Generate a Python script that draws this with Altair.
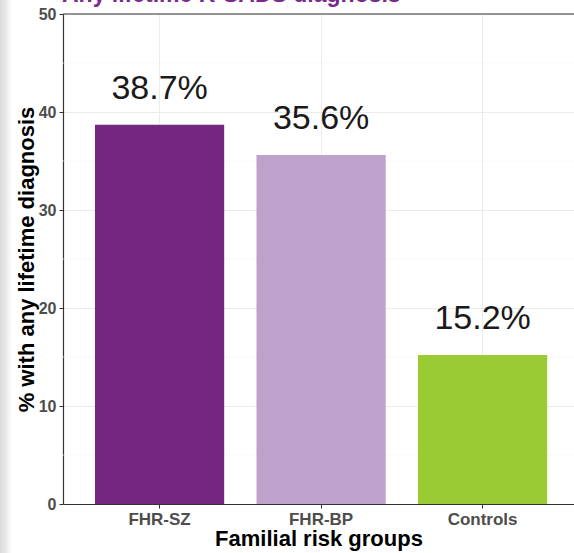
import altair as alt
import pandas as pd

# Share of each familial risk group with any lifetime diagnosis
groups = ["FHR-SZ", "FHR-BP", "Controls"]
pct = [38.7, 35.6, 15.2]
bar_colors = ["#732781", "#BFA2CC", "#9ACB34"]
major_breaks = [0, 10, 20, 30, 40, 50]
minor_breaks = [5, 15, 25, 35, 45]

title_text = "Any lifetime K-SADS diagnosis"
x_title = "Familial risk groups"
y_title = "% with any lifetime diagnosis"

FONT = "Liberation Sans"
W, H = 511, 490

df = pd.DataFrame({"group": groups, "pct": pct})
df["label"] = [f"{v:.1f}%" for v in pct]

x_enc = alt.X(
    "group:N",
    sort=groups,
    title=x_title,
    scale=alt.Scale(paddingInner=0.2, paddingOuter=0.182, align=0.544),
    axis=alt.Axis(
        labelAngle=0,
        grid=True,
        gridColor="#ebebeb",
        gridWidth=1,
        labelFontSize=17,
        labelPadding=3,
        titleFontSize=22,
        titlePadding=1,
    ),
)
y_scale = alt.Scale(domain=[0, 50], nice=False, zero=True)
y_axis = alt.Axis(
    values=major_breaks,
    grid=True,
    gridColor="#ebebeb",
    gridWidth=1,
    labelFontSize=16,
    labelPadding=3,
    titleFontSize=22,
    titlePadding=0,
)
y_enc = alt.Y("pct:Q", title=y_title, scale=y_scale, axis=y_axis)

# thin minor grid lines between the labelled breaks
minor = alt.Chart(pd.DataFrame({"v": minor_breaks})).mark_rule(
    color="#f3f3f3", strokeWidth=0.7
).encode(y=alt.Y("v:Q", scale=y_scale, axis=y_axis, title=y_title))

base = alt.Chart(df)

bars = base.mark_bar().encode(
    x=x_enc,
    y=y_enc,
    color=alt.Color("group:N", sort=groups,
                    scale=alt.Scale(domain=groups, range=bar_colors), legend=None),
)

labels = base.mark_text(
    baseline="alphabetic", dy=-26, fontSize=34, font=FONT, color="#1a1a1a"
).encode(x=alt.X("group:N", sort=groups), y=alt.Y("pct:Q"), text="label:N")

# panel border along the top of the plot
top_border = alt.Chart(pd.DataFrame({"t": [0]})).mark_rule(
    color="#333333", strokeWidth=1.2
).encode(y=alt.datum(50))

# soft grey edge down the left side
edge = alt.Chart(pd.DataFrame({"t": [0]})).mark_rect(
    color=alt.Gradient(
        gradient="linear", x1=0, x2=1, y1=0, y2=0,
        stops=[
            alt.GradientStop(offset=0, color="#d9d9d9"),
            alt.GradientStop(offset=0.5, color="#e8e8e8"),
            alt.GradientStop(offset=1, color="#ffffff"),
        ],
    )
).encode(x=alt.value(-63), x2=alt.value(-51), y=alt.value(-14), y2=alt.value(H + 49))

heading = alt.Chart(pd.DataFrame({"t": [0]})).mark_text(
    align="left", baseline="alphabetic", fontSize=23, fontWeight="bold",
    font=FONT, color="#7a2a8a"
).encode(x=alt.value(-1), y=alt.value(-12), text=alt.value(title_text))

chart = (
    alt.layer(edge, minor, bars, labels, top_border, heading)
    .properties(
        width=W,
        height=H,
        autosize=alt.AutoSizeParams(type="none"),
        padding={"left": 63, "top": 14, "right": 0, "bottom": 49},
        background="white",
    )
    .configure_view(stroke=None)
    .configure_axis(
        labelFont=FONT,
        titleFont=FONT,
        labelFontWeight="bold",
        titleFontWeight="bold",
        labelColor="#4d4d4d",
        titleColor="#000000",
        domainColor="#333333",
        domainWidth=1.2,
        tickColor="#333333",
        tickSize=4,
    )
)

chart.save("out.html", embed_options={"renderer": "svg", "actions": False})
